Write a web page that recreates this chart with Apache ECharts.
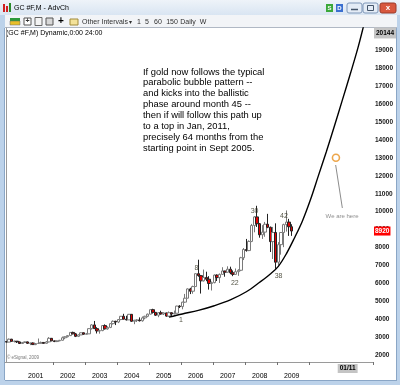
<!DOCTYPE html>
<html><head><meta charset="utf-8">
<script src="https://cdn.jsdelivr.net/npm/echarts@6/dist/echarts.min.js"></script>
<style>html,body{margin:0;padding:0;background:#fff}#c{width:400px;height:385px}</style>
</head><body><div id="c"></div>
<script>
// ---------- categories: monthly bars, May 2000 .. Oct 2011 ----------
const firstYear = 2000, firstMonth = 5, monthCount = 138;
const months = [];
for (let k = 0; k < monthCount; k++) {
  const m = firstMonth - 1 + k;
  const y = firstYear + Math.floor(m / 12);
  const mm = (m % 12) + 1;
  months.push(y + '-' + (mm < 10 ? '0' + mm : mm));
}
const yearLabelFirstIndex = 11, yearLabelLastIndex = 107;
const yearTickFirstIndex = 18, yearTickLastIndex = 114;

// ---------- gold futures, monthly OHLC (price x10), May 2000 .. Apr 2009 ----------
const opens = [2750,2720,2880,2760,2770,2730,2640,2700,2730,2650,2670,2580,2640,2650,2700,2650,2730,2930,2790,2750,
  2790,2820,2960,3020,3080,3260,3180,3040,3120,3240,3160,3180,3470,3680,3470,3340,3360,3640,3460,3540,
  3750,3880,3840,3980,4160,4000,3960,4270,3880,3940,3950,3910,4070,4160,4280,4530,4380,4220,4360,4290,
  4350,4170,4360,4290,4330,4730,4700,4950,5170,5690,5560,5820,6540,6430,6140,6330,6230,5990,6040,6460,
  6320,6500,6690,6620,6790,6590,6500,6650,6730,7430,7890,7830,8340,9230,9710,9330,8710,8860,9300,9130,
  8330,8840,7180,8160,8840,9280,9420,9160];
const highs = [2780,2920,2900,2800,2770,2750,2720,2750,2750,2680,2700,2650,2920,2750,2720,2780,3000,2940,2800,2810,
  2840,3030,3040,3100,3280,3300,3230,3150,3260,3250,3230,3490,3720,3900,3550,3410,3670,3710,3600,3770,
  3930,3910,4000,4170,4300,4190,4290,4280,3960,3990,4100,4150,4190,4310,4550,4580,4390,4380,4470,4380,
  4360,4430,4380,4480,4750,4780,4970,5410,5720,5750,5870,6550,7320,6470,6770,6650,6400,6100,6500,6500,
  6550,6900,6700,6950,6930,6720,6830,6790,7480,7970,8480,8400,9320,9750,10330,9370,9250,9430,9880,9170,
  9150,9350,8300,8850,9330,10070,9600,9300];
const lows = [2700,2710,2760,2700,2670,2630,2630,2680,2620,2550,2560,2550,2630,2640,2630,2640,2700,2770,2720,2720,
  2770,2810,2880,2980,3060,3150,3000,3000,3110,3130,3150,3180,3420,3450,3200,3190,3330,3420,3410,3500,
  3700,3670,3780,3940,3990,3930,3960,3850,3720,3840,3870,3860,3990,4110,4270,4310,4180,4110,4250,4230,
  4140,4140,4180,4270,4320,4620,4550,4910,5170,5400,5420,5810,6370,5430,6100,6120,5650,5600,6000,6130,
  6020,6480,6370,6600,6510,6400,6480,6420,6680,7300,7770,7800,8300,8850,9150,8550,8480,8600,9080,7750,
  7360,6810,7000,7600,8020,8890,8650,8650];
const closes = [2720,2880,2760,2770,2730,2640,2700,2730,2650,2670,2580,2640,2650,2700,2650,2730,2930,2790,2750,2790,
  2820,2960,3020,3080,3260,3180,3040,3120,3240,3160,3180,3470,3680,3470,3340,3360,3640,3460,3540,3750,
  3880,3840,3980,4160,4000,3960,4270,3880,3940,3950,3910,4070,4160,4280,4530,4380,4220,4360,4290,4350,
  4170,4360,4290,4330,4730,4700,4950,5170,5690,5560,5820,6540,6430,6140,6330,6230,5990,6040,6460,6320,
  6500,6690,6620,6790,6590,6500,6650,6730,7430,7890,7830,8340,9230,9710,9330,8710,8860,9300,9130,8330,
  8840,7180,8160,8840,9280,9420,9160,8920];

// ---------- projected parabolic path (month index, price x10) ----------
const pathMonths = [61, 66, 72, 78, 84, 90, 95, 99, 102, 105, 108, 111, 114, 117, 120, 123, 126, 129, 132, 135];
const pathValues = [4110,4290,4490,4750,5075,5530,6060,6520,6950,7650,8520,9470,10650,12000,13350,14770,16230,17700,19230,21000];

// ---------- wave count labels ----------
const countText   = ['1', '8', '22', '30', '38', '42'];
const countMonth  = [65.5, 71.3, 85.7, 93.1, 102.1, 104.1];
const countValue  = [3950, 6860, 6020, 10040, 6410, 9760];

// ---------- annotations ----------
const herePoint = [123.6, 13015];
const hereArrowFrom = [126.0, 10207], hereArrowTo = [123.5, 12607];
const hereTextPos = [125.9, 9760];
const lastPrice = 8920;
const topLabelText = '20144', topLabelLevel = 19980;
const targetMonthIndex = 128, targetMonthText = '01/11';
const yTicks = [2000,3000,4000,5000,6000,7000,8000,9000,10000,11000,12000,13000,14000,15000,16000,17000,18000,19000];
const yMin = 1608, yMax = 20257;
const noteLines = ['If gold now follows the typical','parabolic bubble pattern --','and kicks into the ballistic',
  'phase around month 45 --','then if will follow this path up','to a top in Jan, 2011,',
  'precisely 64 months from the','starting point in Sept 2005.'];

const FONT = '"Liberation Sans", Arial, sans-serif';
const candleData = opens.map((o, i) => [o, closes[i], lows[i], highs[i]]);
const pathData = pathMonths.map((m, i) => [m, pathValues[i]]);
const countData = countText.map((t, i) => [countMonth[i], countValue[i], t]);

const frame = '#bcd2ea', frameDark = '#8aa6c6';
const G = echarts.graphic;
const chrome = [
  {type:'rect', shape:{x:0,y:0,width:400,height:15}, style:{fill:new G.LinearGradient(0,0,0,1,[{offset:0,color:'#eef3f9'},{offset:1,color:'#d9e5f2'}])}},
  {type:'rect', shape:{x:0,y:15,width:400,height:13}, style:{fill:'#f2f4f7'}},
  {type:'line', shape:{x1:5,y1:27.5,x2:397,y2:27.5}, style:{stroke:'#b0b8c4',lineWidth:1}},
  {type:'rect', shape:{x:0,y:15,width:5,height:370}, style:{fill:frame}},
  {type:'line', shape:{x1:4.5,y1:28,x2:4.5,y2:380}, style:{stroke:frameDark,lineWidth:1}},
  {type:'rect', shape:{x:397,y:15,width:3,height:370}, style:{fill:frame}},
  {type:'line', shape:{x1:396.5,y1:28,x2:396.5,y2:380}, style:{stroke:frameDark,lineWidth:1}},
  {type:'rect', shape:{x:0,y:380,width:400,height:5}, style:{fill:frame}},
  {type:'line', shape:{x1:5,y1:380.5,x2:397,y2:380.5}, style:{stroke:frameDark,lineWidth:1}},
  {type:'rect', shape:{x:3,y:4,width:2,height:8}, style:{fill:'#d02020'}},
  {type:'rect', shape:{x:6,y:6,width:2,height:6}, style:{fill:'#d02020'}},
  {type:'rect', shape:{x:9,y:3,width:2,height:9}, style:{fill:'#2a8a2a'}},
  {type:'text', style:{x:14,y:8,text:'GC #F,M - AdvCh',font:'7px '+FONT,fill:'#000',verticalAlign:'middle'}},
  {type:'rect', shape:{x:326,y:4,width:7,height:8}, style:{fill:'#3aa83a'}},
  {type:'text', style:{x:329.5,y:8,text:'S',font:'bold 6px '+FONT,fill:'#fff',align:'center',verticalAlign:'middle'}},
  {type:'rect', shape:{x:336,y:4,width:7,height:8}, style:{fill:'#3a6fd0'}},
  {type:'text', style:{x:339.5,y:8,text:'D',font:'bold 6px '+FONT,fill:'#fff',align:'center',verticalAlign:'middle'}},
  {type:'rect', shape:{x:347,y:3,width:15,height:10,r:2}, style:{fill:'#e4ecf6',stroke:'#7f97b8',lineWidth:1}},
  {type:'line', shape:{x1:351,y1:9.5,x2:358,y2:9.5}, style:{stroke:'#44556a',lineWidth:1.5}},
  {type:'rect', shape:{x:363,y:3,width:15,height:10,r:2}, style:{fill:'#e4ecf6',stroke:'#7f97b8',lineWidth:1}},
  {type:'rect', shape:{x:367.5,y:5.5,width:6,height:5}, style:{fill:'none',stroke:'#44556a',lineWidth:1}},
  {type:'rect', shape:{x:380,y:3,width:16,height:10,r:2}, style:{fill:'#d8583f',stroke:'#9a3a2a',lineWidth:1}},
  {type:'text', style:{x:388,y:8,text:'x',font:'bold 8px '+FONT,fill:'#fff',align:'center',verticalAlign:'middle'}},
  {type:'rect', shape:{x:10,y:18,width:10,height:3}, style:{fill:'#2e9a3a'}},
  {type:'rect', shape:{x:10,y:21,width:10,height:4}, style:{fill:'#e8c02a',stroke:'#6a6a6a',lineWidth:0.5}},
  {type:'rect', shape:{x:24,y:18,width:7,height:7}, style:{fill:'#fff',stroke:'#555',lineWidth:1}},
  {type:'text', style:{x:27.5,y:21.5,text:'+',font:'bold 7px '+FONT,fill:'#333',align:'center',verticalAlign:'middle'}},
  {type:'rect', shape:{x:35,y:17.5,width:7,height:8}, style:{fill:'#f4f4f4',stroke:'#666',lineWidth:1}},
  {type:'rect', shape:{x:46,y:18,width:7,height:7}, style:{fill:'#d8d8d8',stroke:'#555',lineWidth:1}},
  {type:'text', style:{x:61,y:21.5,text:'+',font:'bold 10px '+FONT,fill:'#000',align:'center',verticalAlign:'middle'}},
  {type:'rect', shape:{x:70,y:19,width:8,height:6}, style:{fill:'#f3e29a',stroke:'#a08a3a',lineWidth:1}},
  {type:'text', style:{x:82,y:22,text:'Other Intervals',font:'7px '+FONT,fill:'#303030',verticalAlign:'middle'}},
  {type:'text', style:{x:130,y:22,text:'▾',font:'6px '+FONT,fill:'#303030',align:'center',verticalAlign:'middle'}},
  {type:'text', style:{x:139,y:22,text:'1',font:'7px '+FONT,fill:'#303030',align:'center',verticalAlign:'middle'}},
  {type:'text', style:{x:147,y:22,text:'5',font:'7px '+FONT,fill:'#303030',align:'center',verticalAlign:'middle'}},
  {type:'text', style:{x:158,y:22,text:'60',font:'7px '+FONT,fill:'#303030',align:'center',verticalAlign:'middle'}},
  {type:'text', style:{x:172,y:22,text:'150',font:'7px '+FONT,fill:'#303030',align:'center',verticalAlign:'middle'}},
  {type:'text', style:{x:188,y:22,text:'Daily',font:'7px '+FONT,fill:'#303030',align:'center',verticalAlign:'middle'}},
  {type:'text', style:{x:203,y:22,text:'W',font:'7px '+FONT,fill:'#303030',align:'center',verticalAlign:'middle'}},
  {type:'text', style:{x:6,y:33.5,text:'(GC #F,M) Dynamic,0:00 24:00',font:'7px '+FONT,fill:'#000',verticalAlign:'middle'}},
  {type:'text', style:{x:7,y:358,text:'\u00a9 eSignal, 2009',font:'4.5px '+FONT,fill:'#777',verticalAlign:'middle'}},
  {type:'text', style:{x:143,y:66.5,text:noteLines.join('\n'),font:'9.4px '+FONT,lineHeight:10.9,fill:'#000'}}
];

const chart = echarts.init(document.getElementById('c'), null, {renderer:'canvas'});
chart.setOption({
  animation: false,
  backgroundColor: '#ffffff',
  graphic: chrome,
  grid: {left: 5, right: 27, top: 28, bottom: 23},
  xAxis: [{
    type: 'category', data: months, boundaryGap: true,
    axisLine: {show: true, lineStyle: {color: '#9a9a9a', width: 1}},
    axisTick: {show: true, length: 3, lineStyle: {color: '#707070'},
      interval: (i) => i >= yearTickFirstIndex && i <= yearTickLastIndex && (i - yearTickFirstIndex) % 12 === 0},
    axisLabel: {fontSize: 7, fontFamily: FONT, color: '#000', margin: 11,
      interval: (i) => i >= yearLabelFirstIndex && i <= yearLabelLastIndex && (i - yearLabelFirstIndex) % 12 === 0,
      formatter: (v) => v.slice(0, 4)},
    splitLine: {show: false}
  }, {
    type: 'value', min: -0.5, max: monthCount - 0.5, show: false
  }],
  yAxis: {
    type: 'value', position: 'right', min: yMin, max: yMax,
    axisLine: {show: true, lineStyle: {color: '#9a9a9a', width: 1}},
    axisTick: {show: false},
    splitLine: {show: false},
    axisLabel: {customValues: yTicks, fontSize: 6.5, fontFamily: FONT, fontWeight: 'bold', color: '#1a1a1a',
      margin: 2, align: 'left', formatter: (v) => String(v)}
  },
  series: [{
    type: 'candlestick', xAxisIndex: 0, data: candleData, barWidth: 3,
    itemStyle: {color: '#ffffff', borderColor: '#7a7a7a', color0: '#e60000', borderColor0: '#222222', borderWidth: 1},
    emphasis: {disabled: true},
    markLine: {
      silent: true, symbol: 'none',
      lineStyle: {color: 'rgba(0,0,0,0)', width: 0},
      label: {show: true, position: 'end', distance: 1, formatter: String(lastPrice),
        backgroundColor: '#ff0000', color: '#fff', fontSize: 6.5, fontFamily: FONT, fontWeight: 'bold', padding: [1, 1]},
      data: [{yAxis: lastPrice}]
    }
  }, {
    type: 'line', xAxisIndex: 1, data: pathData, smooth: 0.35, symbol: 'none', clip: true,
    lineStyle: {color: '#000', width: 1.4},
    emphasis: {disabled: true},
    markLine: {
      silent: true, symbol: 'none',
      lineStyle: {color: 'rgba(0,0,0,0)', width: 0},
      data: [
        {yAxis: topLabelLevel, label: {show: true, position: 'end', distance: 1, formatter: topLabelText,
          backgroundColor: '#c4c4c4', color: '#000', fontSize: 6.5, fontFamily: FONT, fontWeight: 'bold', padding: [2, 2]}},
        {xAxis: targetMonthIndex, label: {show: true, position: 'start', distance: 2, formatter: targetMonthText,
          backgroundColor: '#c4c4c4', color: '#000', fontSize: 6.5, fontFamily: FONT, fontWeight: 'bold', padding: [1, 2]}}
      ]
    }
  }, {
    type: 'scatter', xAxisIndex: 1, data: countData, symbolSize: 1,
    itemStyle: {color: 'rgba(0,0,0,0)'},
    label: {show: true, position: 'inside', formatter: (p) => p.data[2], fontSize: 7, fontFamily: FONT, color: '#2a2a18'},
    emphasis: {disabled: true}, silent: true
  }, {
    type: 'scatter', xAxisIndex: 1, data: [herePoint], symbol: 'circle', symbolSize: 7,
    itemStyle: {color: '#ffffff', borderColor: '#e8901e', borderWidth: 1.6},
    emphasis: {disabled: true}, silent: true,
    markLine: {
      silent: true, symbol: ['none', 'arrow'], symbolSize: [0, 5],
      lineStyle: {color: '#8c8c8c', width: 1, type: 'solid'},
      label: {show: false},
      data: [[{coord: hereArrowFrom}, {coord: hereArrowTo}]]
    }
  }, {
    type: 'scatter', xAxisIndex: 1, data: [hereTextPos], symbolSize: 1,
    itemStyle: {color: 'rgba(0,0,0,0)'},
    label: {show: true, position: 'inside', formatter: 'We are here', fontSize: 6, fontFamily: FONT, color: '#707070'},
    emphasis: {disabled: true}, silent: true
  }]
});
</script></body></html>
